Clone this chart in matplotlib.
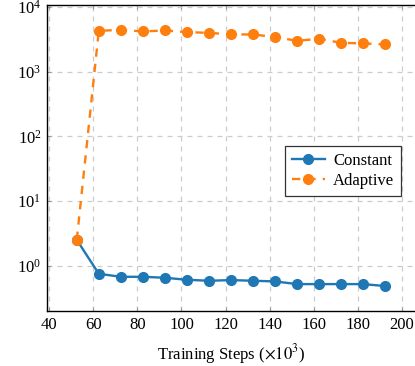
import matplotlib
matplotlib.use("Agg")
import matplotlib.pyplot as plt

# training steps (x10^3)
steps = [52.5, 62.5, 72.5, 82.5, 92.5, 102.5, 112.5, 122.5, 132.5,
         142.5, 152.5, 162.5, 172.5, 182.5, 192.5]

constant = [2.52, 0.752, 0.676, 0.676, 0.653, 0.608, 0.587, 0.601, 0.587,
            0.573, 0.521, 0.521, 0.521, 0.521, 0.486]

adaptive = [2.52, 4305, 4460, 4215, 4365, 4110, 4010, 3785, 3785,
            3445, 3020, 3240, 2810, 2750, 2655]

xticks = [40, 60, 80, 100, 120, 140, 160, 180, 200]

plt.rcParams['font.family'] = ['Liberation Serif', 'DejaVu Serif']
plt.rcParams['mathtext.fontset'] = 'stix'
plt.rcParams['font.size'] = 12


def main():
    fig = plt.figure(figsize=(4.15, 3.66), dpi=100)
    ax = fig.add_axes([0.1133, 0.1503, 0.8867, 0.8374])

    ax.plot(steps, constant, '-o', color='#1f77b4', lw=1.7, ms=7,
            label='Constant', zorder=3)
    ax.plot(steps, adaptive, '--o', color='#ff7f0e', lw=1.7, ms=7,
            dashes=(3.5, 3), label='Adaptive', zorder=3)

    ax.set_yscale('log')
    ax.set_xlim(39, 206)
    ax.set_ylim(0.2, 1.1e4)
    ax.set_xticks(xticks)
    ax.set_yticks([1, 10, 100, 1000, 10000])
    ax.minorticks_off()

    ax.grid(True, color='#cccccc', linestyle=(0, (4, 4)), lw=0.9)
    ax.set_axisbelow(True)
    ax.tick_params(direction='in', top=True, length=3, color='#999999',
                   labelsize=12, pad=4)
    ax.spines['right'].set_visible(False)
    for s in ('left', 'top', 'bottom'):
        ax.spines[s].set_linewidth(1.0)

    ax.set_xlabel(r'Training Steps ($\times 10^3$)', fontsize=12, labelpad=7)

    leg = ax.legend(loc='center right', bbox_to_anchor=(0.962, 0.457),
                    fancybox=False, edgecolor='#333333', framealpha=1,
                    handlelength=2.0, handletextpad=0.5, borderpad=0.4,
                    labelspacing=0.25, borderaxespad=0, fontsize=12)
    leg.get_frame().set_linewidth(0.9)

    fig.savefig('out.png', dpi=100)


if __name__ == "__main__":
    main()
